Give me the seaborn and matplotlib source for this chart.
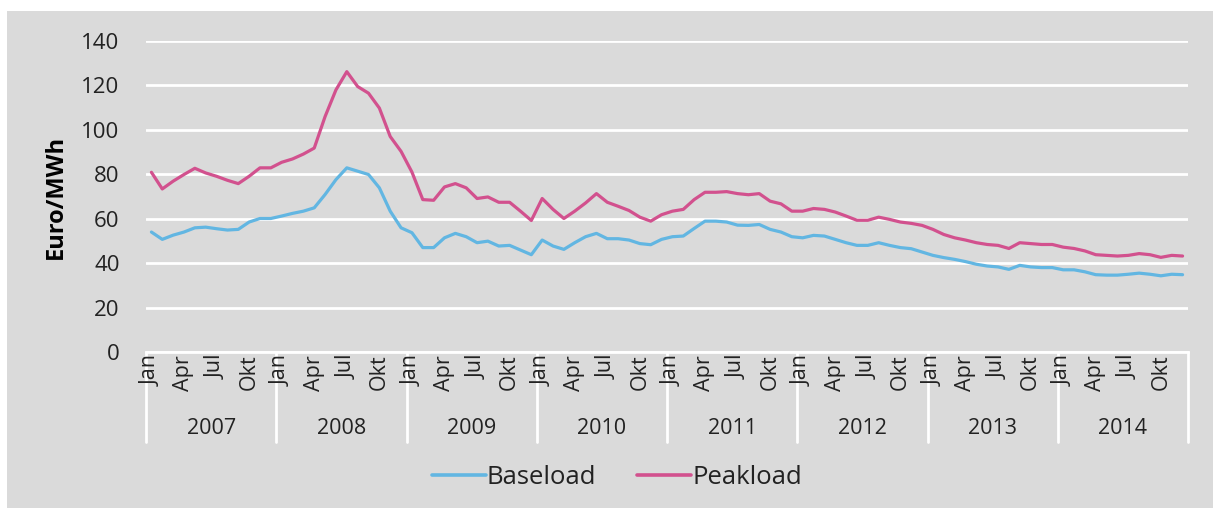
import matplotlib
matplotlib.use("Agg")
from matplotlib import pyplot as plt
from matplotlib.lines import Line2D
from matplotlib.patches import Rectangle
import seaborn as sns
import pandas as pd
import numpy as np

years = ['2007', '2008', '2009', '2010', '2011', '2012', '2013', '2014']
month_labels = ['Jan', 'Apr', 'Jul', 'Okt']

baseload = [
    54.0, 50.7, 52.6, 54.0, 55.9, 56.2, 55.5, 54.9, 55.2, 58.5, 60.1, 60.1,
    61.2, 62.4, 63.4, 64.9, 70.9, 77.6, 82.9, 81.4, 79.9, 73.9, 63.4, 55.9,
    53.7, 47.0, 47.0, 51.4, 53.4, 51.9, 49.2, 49.9, 47.7, 48.0, 45.9, 43.8,
    50.4, 47.7, 46.2, 49.2, 51.9, 53.4, 51.0, 51.0, 50.4, 48.8, 48.3, 50.7,
    51.9, 52.2, 55.6, 58.9, 58.9, 58.5, 57.1, 57.0, 57.4, 55.2, 54.0, 51.9,
    51.4, 52.5, 52.2, 50.7, 49.2, 48.0, 48.0, 49.2, 48.0, 47.0, 46.5, 45.0,
    43.5, 42.5, 41.7, 40.7, 39.5, 38.7, 38.3, 37.2, 39.0, 38.3, 38.0, 38.0,
    37.0, 37.0, 36.1, 34.8, 34.6, 34.6, 35.0, 35.5, 35.0, 34.3, 35.0, 34.8,
]
peakload = [
    80.9, 73.4, 76.9, 79.9, 82.7, 80.6, 79.1, 77.3, 75.8, 79.1, 82.9, 82.9,
    85.4, 86.9, 89.1, 91.8, 106.0, 118.0, 126.2, 119.5, 116.5, 109.8, 97.0, 90.3,
    81.0, 68.6, 68.3, 74.3, 75.8, 73.9, 69.1, 69.8, 67.4, 67.4, 63.4, 59.2,
    69.1, 64.2, 60.1, 63.4, 67.1, 71.3, 67.4, 65.6, 63.7, 60.7, 58.9, 61.8,
    63.4, 64.2, 68.6, 71.9, 71.9, 72.2, 71.3, 70.8, 71.3, 67.9, 66.7, 63.4,
    63.4, 64.6, 64.2, 63.0, 61.2, 59.3, 59.3, 60.7, 59.7, 58.5, 57.9, 57.0,
    55.2, 52.9, 51.4, 50.4, 49.2, 48.4, 48.0, 46.6, 49.2, 48.8, 48.4, 48.4,
    47.2, 46.6, 45.5, 43.8, 43.5, 43.2, 43.5, 44.3, 43.8, 42.6, 43.5, 43.2,
]

n = len(baseload)
df = pd.DataFrame({
    'month': list(range(n)) * 2,
    'value': baseload + peakload,
    'series': ['Baseload'] * n + ['Peakload'] * n,
})

sns.set_theme(style='white')
plt.rcParams['font.family'] = ['Open Sans', 'DejaVu Sans']
text_col = '#222222'
bg = '#dadada'
colors = {'Baseload': '#62b6e2', 'Peakload': '#d2518e'}

fig = plt.figure(figsize=(12.13, 5.08), dpi=100)
fig.patch.set_facecolor('white')
fig.patches.append(Rectangle((7 / 1213, 0), 1 - 7 / 1213, 1 - 11 / 508,
                             transform=fig.transFigure, facecolor=bg,
                             edgecolor='none', zorder=-10))

ax = fig.add_axes([146 / 1213, 1 - 352 / 508, (1188 - 146) / 1213, (352 - 41) / 508])
ax.set_facecolor(bg)

sns.lineplot(data=df, x='month', y='value', hue='series', palette=colors,
             linewidth=2.3, ax=ax, legend=False)

ax.set_xlim(-0.5, n - 0.5)
ax.set_ylim(0, 140)
ax.set_yticks(range(0, 141, 20))
ax.grid(axis='y', color='white', linewidth=2)
ax.set_axisbelow(True)
for s in ['top', 'right', 'left']:
    ax.spines[s].set_visible(False)
ax.spines['bottom'].set_color('white')
ax.spines['bottom'].set_linewidth(2)

ax.tick_params(axis='y', length=0, pad=19, labelsize=16, labelcolor=text_col)
ax.set_ylabel('Euro/MWh', fontsize=17, fontweight='bold', color='black', labelpad=10)

ticks = [12 * y + m for y in range(len(years)) for m in (0, 3, 6, 9)]
ax.set_xticks(ticks)
ax.set_xticklabels(month_labels * len(years), rotation=90)
ax.tick_params(axis='x', length=0, pad=2, labelsize=15.5, labelcolor=text_col)
ax.set_xlabel('')

# year separators below the axis
xt = ax.get_xaxis_transform()
for i in range(len(years) + 1):
    ax.add_line(Line2D([12 * i - 0.5, 12 * i - 0.5], [0, -0.29], transform=xt,
                       color='white', linewidth=2, clip_on=False, zorder=0.3))
for i, yr in enumerate(years):
    ax.text(12 * i + 5.5, -0.245, yr, transform=xt, ha='center', va='center',
            fontsize=15.5, color=text_col)

handles = [Line2D([], [], color=colors['Baseload'], linewidth=2.6),
           Line2D([], [], color=colors['Peakload'], linewidth=2.6)]
fig.legend(handles, ['Baseload', 'Peakload'], loc='center',
           bbox_to_anchor=(617 / 1213, 1 - 477 / 508), ncol=2, frameon=False,
           fontsize=18.5, handlelength=2.1, handletextpad=0.05, columnspacing=1.6,
           labelcolor=text_col)

fig.savefig('out.png', dpi=100, facecolor=fig.get_facecolor())
